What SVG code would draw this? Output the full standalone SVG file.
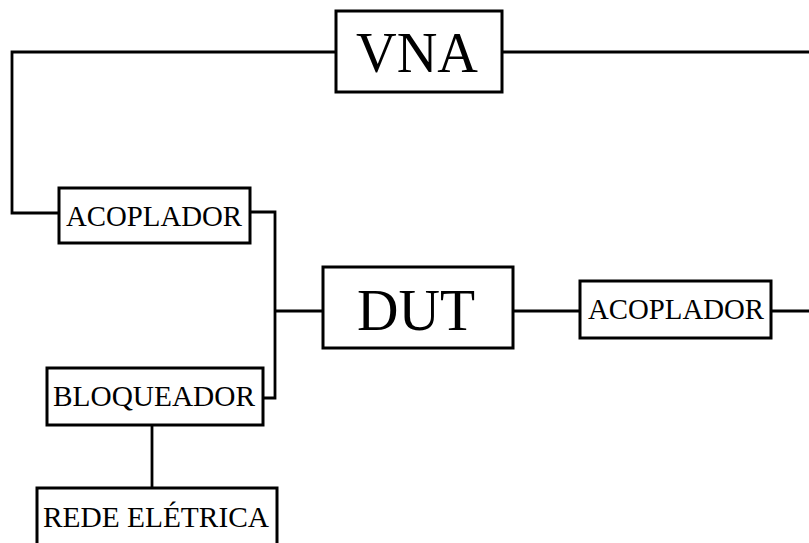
<svg xmlns="http://www.w3.org/2000/svg" width="809" height="543" viewBox="0 0 809 543">
<style>
.box{fill:#fff;stroke:#000;stroke-width:3}
.wire{fill:none;stroke:#000;stroke-width:2.8}
text{font-family:"Liberation Serif","Times New Roman",serif;fill:#000;text-anchor:middle}
</style>
<rect width="809" height="543" fill="#fff"/>
<g id="connectors">
<polyline class="wire" points="336,52 12,52 12,213 59,213"/>
<line class="wire" x1="502" y1="52" x2="809" y2="52"/>
<polyline class="wire" points="250,212 275,212 275,398 263,398"/>
<line class="wire" x1="275" y1="311" x2="323" y2="311"/>
<line class="wire" x1="513" y1="311" x2="580" y2="311"/>
<line class="wire" x1="771" y1="311" x2="809" y2="311"/>
<line class="wire" x1="152" y1="425" x2="152" y2="488"/>
</g>
<g id="vna">
<rect class="box" x="336" y="11" width="166" height="81"/>
<text x="417" y="72" font-size="58" textLength="122" lengthAdjust="spacingAndGlyphs">VNA</text>
</g>
<g id="acoplador1">
<rect class="box" x="59" y="188" width="191" height="55"/>
<text x="154" y="226" font-size="30" textLength="176" lengthAdjust="spacingAndGlyphs">ACOPLADOR</text>
</g>
<g id="dut">
<rect class="box" x="323" y="267" width="190" height="81"/>
<text x="416" y="330" font-size="60" textLength="118" lengthAdjust="spacingAndGlyphs">DUT</text>
</g>
<g id="acoplador2">
<rect class="box" x="580" y="281" width="191" height="57"/>
<text x="676" y="319" font-size="30" textLength="176" lengthAdjust="spacingAndGlyphs">ACOPLADOR</text>
</g>
<g id="bloqueador">
<rect class="box" x="47" y="368" width="216" height="57"/>
<text x="154" y="406" font-size="29.5" textLength="202" lengthAdjust="spacingAndGlyphs">BLOQUEADOR</text>
</g>
<g id="rede">
<rect class="box" x="37" y="488" width="240" height="70"/>
<text x="156" y="527" font-size="30" textLength="226" lengthAdjust="spacingAndGlyphs">REDE ELÉTRICA</text>
</g>
</svg>
